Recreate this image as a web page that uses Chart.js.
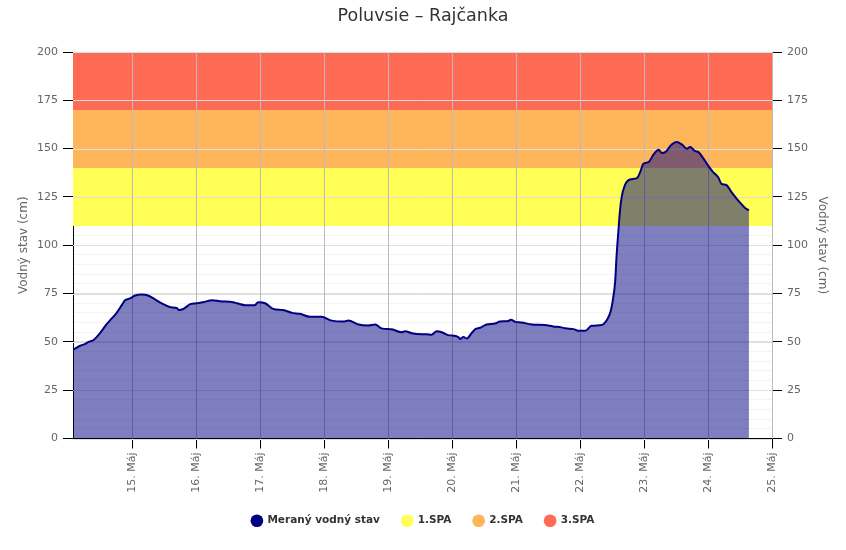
<!DOCTYPE html>
<html lang="sk">
<head>
<meta charset="utf-8">
<title>Poluvsie – Rajčanka</title>
<script src="https://cdn.jsdelivr.net/npm/chart.js@4.4.1/dist/chart.umd.min.js"></script>
<style>
    html, body { margin: 0; padding: 0; background: #fff; }
</style>
</head>
<body>
<canvas id="graf" width="846" height="550"></canvas>
<script>
// ------------------------------ Dáta ------------------------------

// čas = deň v máji (desatinné číslo), hladina v cm
const casy = [
    14.08, 14.19, 14.27, 14.32, 14.40, 14.50, 14.60, 14.68, 14.76, 14.84, 14.89, 14.97,
    15.05, 15.15, 15.25, 15.36, 15.46, 15.59, 15.70, 15.73, 15.80, 15.91,
    16.01, 16.11, 16.25, 16.375, 16.58, 16.64, 16.77, 16.92, 16.97,
    17.08, 17.21, 17.36, 17.50, 17.625, 17.78, 17.96,
    18.12, 18.30, 18.38, 18.54, 18.69, 18.80, 18.90,
    19.06, 19.21, 19.27, 19.37, 19.53, 19.60, 19.68, 19.76, 19.84, 19.94,
    20.10, 20.125, 20.18, 20.23, 20.31, 20.36, 20.44, 20.54, 20.67, 20.75, 20.88, 20.92, 20.98,
    21.09, 21.25, 21.45, 21.58, 21.71, 21.77, 21.90, 21.97,
    22.08, 22.18, 22.34, 22.39, 22.44, 22.48, 22.51, 22.55, 22.57, 22.60, 22.625, 22.65, 22.70, 22.78, 22.89, 22.94, 22.99,
    23.07, 23.15, 23.23, 23.28, 23.35, 23.42, 23.51, 23.59, 23.67, 23.72, 23.80, 23.85, 23.93,
    24.00, 24.08, 24.16, 24.21, 24.28, 24.37, 24.45, 24.53, 24.58, 24.64
];
const hladiny = [
    46, 48, 49, 50, 51, 54.5, 59, 62, 65, 69, 71.5, 72.5,
    74, 74.5, 74, 72, 70, 68, 67.5, 66.5, 67, 69.5,
    70, 70.5, 71.5, 71, 70.5, 70, 69, 69, 70.5,
    70, 67, 66.5, 65, 64.5, 63, 63,
    61, 60.5, 61, 59, 58.5, 59, 57,
    56.5, 55, 55.5, 54.5, 54, 54, 53.7, 55.5, 55, 53.5,
    52.5, 51.5, 52.5, 51.8, 54.7, 56.5, 57.3, 59, 59.5, 60.5, 60.8, 61.5, 60.5,
    60, 59, 58.7, 58, 57.5, 57, 56.6, 55.8,
    55.7, 58.3, 58.7, 60, 62.5, 66, 71, 81.6, 93.7, 107.5, 118, 124.8, 131, 134, 134.7, 137.8, 142.2,
    143, 147, 149.4, 147.7, 148.7, 151.7, 153.4, 152.2, 150, 150.8, 148.7, 148.2, 144.8,
    141.3, 137.8, 135.2, 131.8, 131.3, 127.4, 124, 121, 119.3, 118
];

// stupne povodňovej aktivity
const nazvySPA = ["1.SPA", "2.SPA", "3.SPA"];
const hraniceSPA = [110, 140, 170, 200];

// popisy osi x
const dni = [15, 16, 17, 18, 19, 20, 21, 22, 23, 24, 25];
const dniPopisy = ["15. Máj", "16. Máj", "17. Máj", "18. Máj", "19. Máj", "20. Máj",
                   "21. Máj", "22. Máj", "23. Máj", "24. Máj", "25. Máj"];

const zaciatok = 14.078;
const koniec = 25;

// ------------------------------ Farby ------------------------------
const farbaStav = "#000080";
const farbySPA = ["rgb(255, 255, 85)", "rgb(255, 182, 90)", "rgb(255, 106, 84)"];
const farbaMriezkaX = "#bbb";
const farbaMriezkaY = "#e0e0e0";

const pismo = "'DejaVu Sans', sans-serif";

// hlavné čiary mriežky sa ešte raz nakreslia nad pásmami SPA, ale pod vodným stavom
const mriezkaNaPasmach = {
    id: "mriezkaNaPasmach",
    afterDatasetDraw(chart, args) {
        if (args.index !== 1) return;
        const { ctx, chartArea, scales } = chart;
        ctx.save();
        ctx.lineWidth = 1;
        ctx.strokeStyle = farbaMriezkaY;
        scales.y.ticks.forEach(t => {
            if (t.value % 25 !== 0) return;
            const y = Math.round(scales.y.getPixelForValue(t.value)) + 0.5;
            ctx.beginPath();
            ctx.moveTo(chartArea.left, y);
            ctx.lineTo(chartArea.right, y);
            ctx.stroke();
        });
        ctx.strokeStyle = farbaMriezkaX;
        scales.x.ticks.forEach(t => {
            const x = Math.round(scales.x.getPixelForValue(t.value)) + 0.5;
            ctx.beginPath();
            ctx.moveTo(x, chartArea.top);
            ctx.lineTo(x, chartArea.bottom);
            ctx.stroke();
        });
        ctx.restore();
    }
};

const osY = (pozicia) => ({
    position: pozicia,
    min: 0,
    max: 200,
    title: {
        display: true,
        text: "Vodný stav (cm)",
        color: "#666",
        font: { family: pismo, size: 12 },
        padding: { top: 17, bottom: 0 }
    },
    border: { color: "#000", width: 1 },
    grid: {
        drawOnChartArea: pozicia === "left",
        color: (ctx) => (ctx.tick && ctx.tick.value % 25 === 0) ? farbaMriezkaY : "#f3f3f3",
        tickColor: (ctx) => (ctx.tick && ctx.tick.value % 25 === 0) ? "#000" : "rgba(0,0,0,0)",
        tickLength: 10
    },
    ticks: {
        stepSize: 5,
        maxTicksLimit: 100,
        autoSkip: false,
        padding: 5,
        color: "#666",
        font: { family: pismo, size: 11 },
        callback: (v) => v % 25 === 0 ? v : ""
    },
    afterFit: (s) => { s.width = pozicia === "left" ? 73 : 74; }
});

const datasetySPA = nazvySPA.map((nazov, i) => ({
    label: nazov,
    data: [
        { x: zaciatok, y: hraniceSPA[i + 1] },
        { x: koniec, y: hraniceSPA[i + 1] }
    ],
    fill: { value: hraniceSPA[i] },
    backgroundColor: farbySPA[i],
    borderWidth: 0,
    pointRadius: 0
}));

new Chart(document.getElementById("graf"), {
    type: "line",
    data: {
        datasets: [
            {
                label: "Meraný vodný stav",
                data: casy.map((c, i) => ({ x: c, y: hladiny[i] })),
                borderColor: farbaStav,
                borderWidth: 2,
                backgroundColor: "rgba(0, 0, 128, 0.5)",
                fill: "origin",
                pointRadius: 0,
                cubicInterpolationMode: "monotone"
            },
            ...datasetySPA
        ]
    },
    options: {
        responsive: false,
        animation: false,
        devicePixelRatio: 1,
        layout: { padding: { left: 0, right: 0, top: 0, bottom: 14 } },
        scales: {
            x: {
                type: "linear",
                min: zaciatok,
                max: koniec,
                border: { color: "#000", width: 1 },
                grid: { color: farbaMriezkaX, tickColor: "#000", tickLength: 10 },
                afterBuildTicks: (s) => { s.ticks = dni.map(v => ({ value: v })); },
                afterFit: (s) => { s.height = 55; },
                ticks: {
                    autoSkip: false,
                    minRotation: 90,
                    maxRotation: 90,
                    padding: 4,
                    color: "#666",
                    font: { family: pismo, size: 11 },
                    callback: (v, i) => dniPopisy[i]
                }
            },
            y: osY("left"),
            y1: osY("right")
        },
        plugins: {
            title: {
                display: true,
                text: "Poluvsie – Rajčanka",
                color: "#333",
                font: { family: pismo, size: 17.5, weight: "normal" },
                padding: { top: 6, bottom: 25 }
            },
            legend: {
                position: "bottom",
                labels: {
                    usePointStyle: true,
                    boxHeight: 9,
                    padding: 22,
                    color: "#333",
                    font: { family: pismo, size: 10.5, weight: "bold" },
                    generateLabels: (chart) => chart.data.datasets.map((ds, i) => {
                        const farba = i === 0 ? farbaStav : farbySPA[i - 1];
                        return {
                            text: ds.label,
                            fillStyle: farba,
                            strokeStyle: farba,
                            lineWidth: 0,
                            pointStyle: "circle",
                            fontColor: "#333",
                            hidden: !chart.isDatasetVisible(i),
                            datasetIndex: i
                        };
                    })
                }
            },
            tooltip: { enabled: false }
        }
    },
    plugins: [mriezkaNaPasmach]
});
</script>
</body>
</html>
